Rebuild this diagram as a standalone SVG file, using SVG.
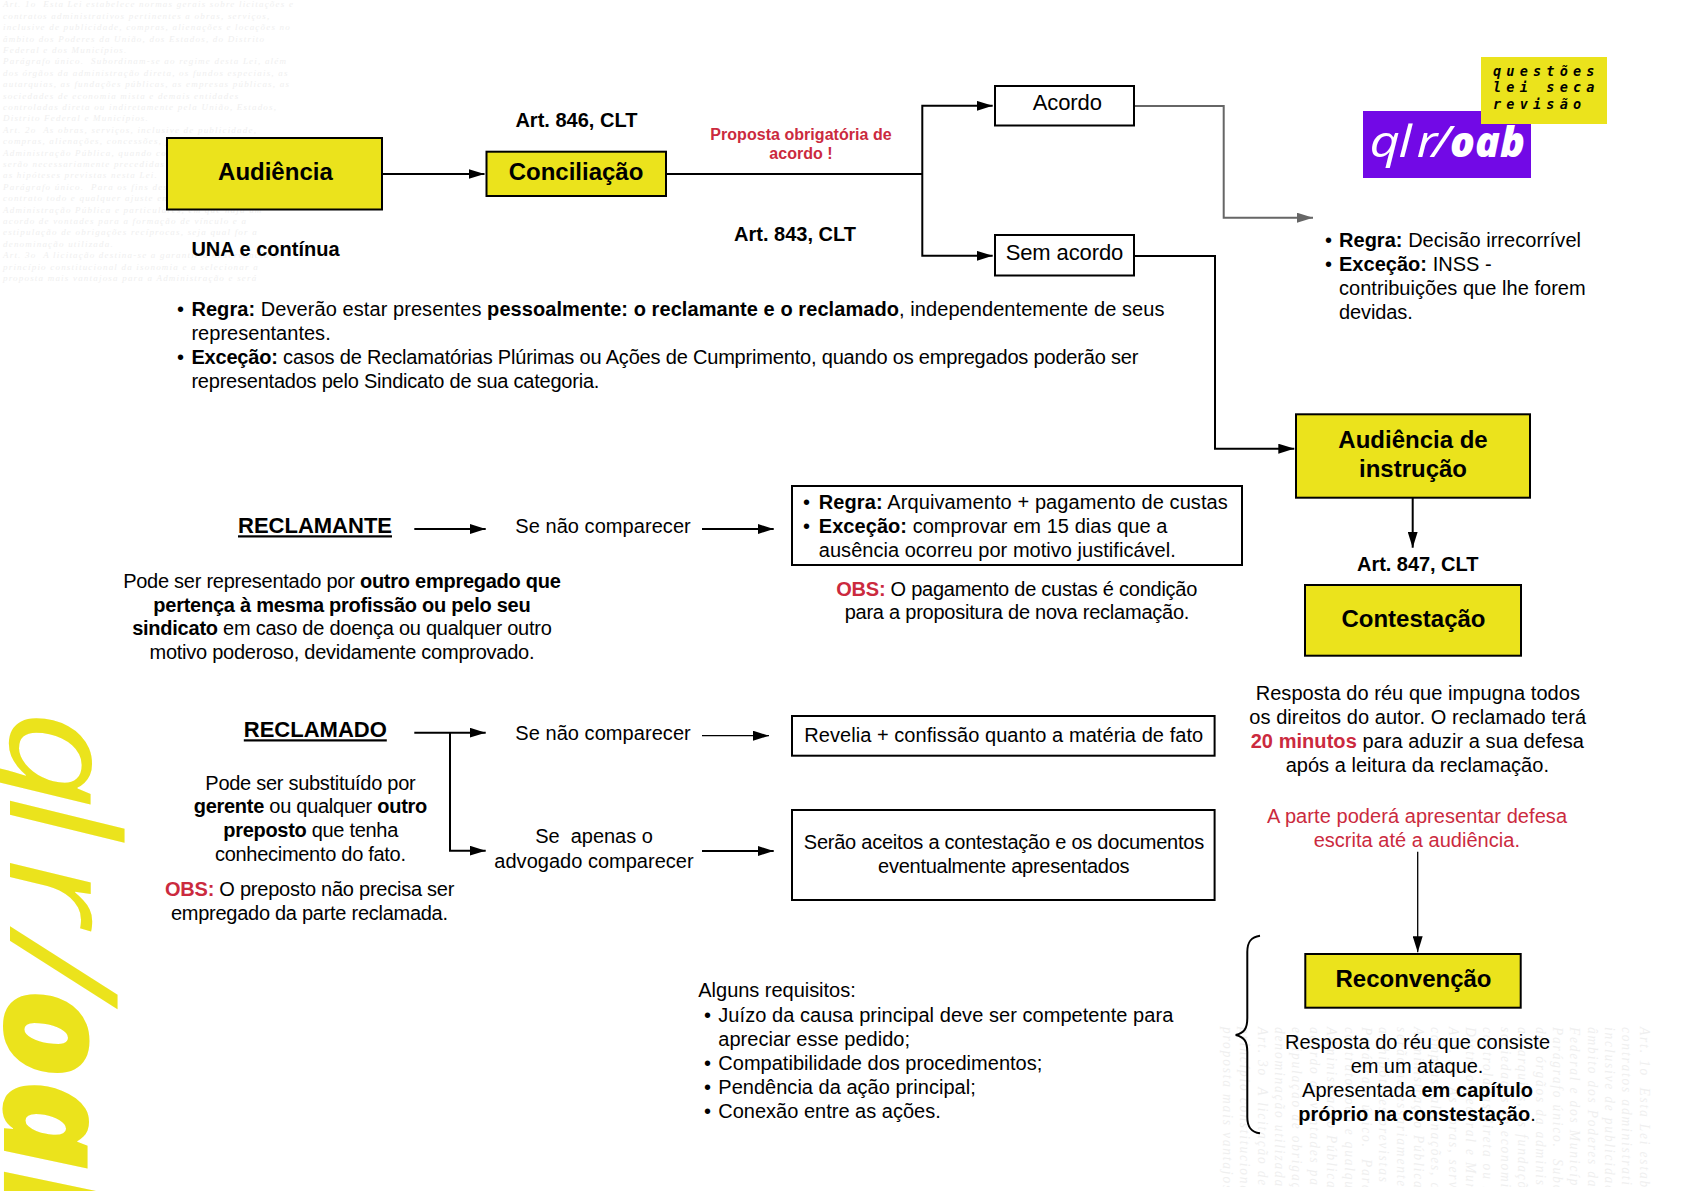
<svg xmlns="http://www.w3.org/2000/svg" width="1683" height="1191" viewBox="0 0 1683 1191">
<style>
text{font-family:"Liberation Sans",Arial,sans-serif;fill:#000;font-size:20px;white-space:pre}
.m{text-anchor:middle}
.b{font-weight:700}
.t{font-size:24px;font-weight:700;text-anchor:middle}
.h{font-size:20px;font-weight:700;text-anchor:middle}
.r{fill:#cb2a3e}
.u{font-size:22px;font-weight:700;text-anchor:middle;text-decoration:underline}
.n{fill:#ebe31c;stroke:#000;stroke-width:2}
.w{fill:#fff;stroke:#000;stroke-width:2}
.c{fill:none;stroke:#000;stroke-width:2}
.g{fill:none;stroke:#666;stroke-width:2}
#wmt text{font-family:"Liberation Serif",serif;font-style:italic;font-size:9px;letter-spacing:1.2px;fill:#efefef}
.mono{font-family:"DejaVu Sans Mono","Liberation Mono",monospace;font-weight:700;font-style:italic;font-size:13.5px;letter-spacing:5.2px}
.thin{font-family:"Open Sans",sans-serif;font-style:italic;font-weight:400}
.fat{font-family:"Open Sans",sans-serif;font-style:italic;font-weight:800}
.y{fill:#ebe31c}
.wh{fill:#fff}
</style>
<defs>
<marker id="a" markerWidth="16" markerHeight="10" refX="16" refY="5" orient="auto" markerUnits="userSpaceOnUse"><path d="M0 0L16 5L0 10z" fill="#000"/></marker>
<marker id="ag" markerWidth="16" markerHeight="10" refX="16" refY="5" orient="auto" markerUnits="userSpaceOnUse"><path d="M0 0L16 5L0 10z" fill="#666"/></marker>
<g id="wmt">
<text y="7.4">Art. 1o  Esta Lei estabelece normas gerais sobre licitações e</text>
<text y="18.8">contratos administrativos pertinentes a obras, serviços,</text>
<text y="30.2">inclusive de publicidade, compras, alienações e locações no</text>
<text y="41.6">âmbito dos Poderes da União, dos Estados, do Distrito</text>
<text y="53">Federal e dos Municípios.</text>
<text y="64.4">Parágrafo único.  Subordinam-se ao regime desta Lei, além</text>
<text y="75.8">dos órgãos da administração direta, os fundos especiais, as</text>
<text y="87.2">autarquias, as fundações públicas, as empresas públicas, as</text>
<text y="98.6">sociedades de economia mista e demais entidades</text>
<text y="110">controladas direta ou indiretamente pela União, Estados,</text>
<text y="121.4">Distrito Federal e Municípios.</text>
<text y="132.8">Art. 2o  As obras, serviços, inclusive de publicidade,</text>
<text y="144.2">compras, alienações, concessões, permissões e locações da</text>
<text y="155.6">Administração Pública, quando contratadas com terceiros,</text>
<text y="167">serão necessariamente precedidas de licitação, ressalvadas</text>
<text y="178.4">as hipóteses previstas nesta Lei.</text>
<text y="189.8">Parágrafo único.  Para os fins desta Lei, considera-se</text>
<text y="201.2">contrato todo e qualquer ajuste entre órgãos ou entidades da</text>
<text y="212.6">Administração Pública e particulares, em que haja um</text>
<text y="224">acordo de vontades para a formação de vínculo e a</text>
<text y="235.4">estipulação de obrigações recíprocas, seja qual for a</text>
<text y="246.8">denominação utilizada.</text>
<text y="258.2">Art. 3o  A licitação destina-se a garantir a observância do</text>
<text y="269.6">princípio constitucional da isonomia e a selecionar a</text>
<text y="281">proposta mais vantajosa para a Administração e será</text>
</g>
<clipPath id="cp"><rect x="1210" y="1020" width="473" height="167"/></clipPath>
</defs>
<rect width="1683" height="1191" fill="#fff"/>
<g id="watermark-top"><use href="#wmt" x="3" y="0"/></g>
<g id="watermark-bottom" clip-path="url(#cp)"><use href="#wmt" transform="translate(1651,1027) rotate(90) scale(1.5,1.523)"/></g>

<g id="logo-side">
<text class="thin y" style="font-size:150px" x="0 74.8 128.7 194.8" transform="translate(10,710) rotate(90) scale(1.15,1)">qlr/</text>
<text class="fat y" style="font-size:150px" transform="translate(4,988) rotate(90)">oab</text>
</g>
<g id="logo">
<rect x="1363" y="111" width="168" height="67" fill="#7209e6"/>
<text class="thin wh" style="font-size:44px" x="0 24 39 52" transform="translate(1369.6,157) scale(1.2,1)">qlr/</text>
<text class="fat wh" style="font-size:42px" transform="translate(1450,157) scale(.98,1)">oab</text>
<rect x="1481" y="57" width="126" height="67" fill="#ebe31c"/>
<text class="mono" x="1493" y="75.7">questões</text>
<text class="mono" x="1493" y="92.3">lei seca</text>
<text class="mono" x="1493" y="109">revisão</text>
</g>

<g id="connectors">
<path class="c" d="M383 174H484.5" marker-end="url(#a)"/>
<path class="c" d="M667 174H922.3"/>
<path class="c" d="M922.3 174V105.8H992.7" marker-end="url(#a)"/>
<path class="c" d="M922.3 174V255.8H992.7" marker-end="url(#a)"/>
<path class="g" d="M1135 106H1223.7V217.7H1313" marker-end="url(#ag)"/>
<path class="c" d="M1135 256H1215V448.7H1294.3" marker-end="url(#a)"/>
<path class="c" d="M1412.7 498V547.7" marker-end="url(#a)"/>
<path class="c" d="M414.3 529H485.7" marker-end="url(#a)"/>
<path class="c" d="M702 529H773.7" marker-end="url(#a)"/>
<path class="c" d="M414.3 732.7H485.7" marker-end="url(#a)"/>
<path class="c" d="M450 732.7V850.7H485.7" marker-end="url(#a)"/>
<path class="c" style="stroke-width:1.3" d="M702 735.7H769" marker-end="url(#a)"/>
<path class="c" d="M702 851H773.7" marker-end="url(#a)"/>
<path class="c" style="stroke-width:1.3" d="M1417.7 851.7V952.3" marker-end="url(#a)"/>
<path class="c" d="M1260 935.7C1250 937 1247.3 943 1247.3 952V1018C1247.3 1029 1244 1033 1235.7 1035C1244 1037 1247.3 1041 1247.3 1052V1117C1247.3 1126 1250 1132 1260 1133.3"/>
</g>

<g id="audiencia"><rect class="n" x="167" y="138" width="215" height="71.5"/><text class="t" x="275.4" y="179.5">Audiência</text></g>
<g id="conciliacao"><rect class="n" x="486.5" y="151.7" width="179.5" height="44.3"/><text class="t" x="576" y="179.5">Conciliação</text></g>
<g id="acordo"><rect class="w" x="995" y="86" width="139" height="39.5"/><text class="m" style="font-size:22px" x="1067.3" y="110" textLength="69.3">Acordo</text></g>
<g id="sem-acordo"><rect class="w" x="995" y="235" width="139" height="40.5"/><text class="m" style="font-size:22px" x="1064.5" y="260" textLength="117.7">Sem acordo</text></g>
<g id="instrucao"><rect class="n" x="1296" y="414.3" width="234" height="83.4"/><text class="t" x="1413" y="447.7">Audiência de</text><text class="t" x="1413" y="477">instrução</text></g>
<g id="contestacao"><rect class="n" x="1305" y="585" width="216" height="70.7"/><text class="t" x="1413.5" y="626.7">Contestação</text></g>
<g id="reconvencao"><rect class="n" x="1305.3" y="954" width="215.4" height="53.7"/><text class="t" x="1413.5" y="987">Reconvenção</text></g>

<g id="regra-box"><rect class="w" x="792" y="486" width="450" height="79"/>
<text x="803" y="509.3">•</text><text x="818.8" y="509.3" textLength="409"><tspan class="b">Regra:</tspan> Arquivamento + pagamento de custas</text>
<text x="803" y="533.3">•</text><text x="818.8" y="533.3" textLength="348.6"><tspan class="b">Exceção:</tspan> comprovar em 15 dias que a</text>
<text x="818.8" y="557.3" textLength="357">ausência ocorreu por motivo justificável.</text></g>
<g id="revelia-box"><rect class="w" x="792" y="716" width="422.6" height="39.7"/><text class="m" x="1003.7" y="741.7" textLength="399">Revelia + confissão quanto a matéria de fato</text></g>
<g id="serao-box"><rect class="w" x="792" y="810" width="422.6" height="90"/><text class="m" x="1004" y="849" textLength="400.4">Serão aceitos a contestação e os documentos</text><text class="m" x="1003.8" y="872.7" textLength="251.5">eventualmente apresentados</text></g>

<g id="labels">
<text class="h" x="576.4" y="126.7" textLength="122">Art. 846, CLT</text>
<text class="h" x="795" y="241" textLength="122">Art. 843, CLT</text>
<text class="h" x="1417.7" y="571" textLength="121.3">Art. 847, CLT</text>
<text class="h" x="265.5" y="255.7" textLength="148.2">UNA e contínua</text>
<text class="m b r" style="font-size:16px" x="801" y="140" textLength="181.4">Proposta obrigatória de</text>
<text class="m b r" style="font-size:16px" x="801" y="159.3" textLength="63.4">acordo !</text>

<text x="177" y="316">•</text><text x="191.4" y="316" textLength="973"><tspan class="b">Regra:</tspan> Deverão estar presentes <tspan class="b">pessoalmente: o reclamante e o reclamado</tspan>, independentemente de seus</text>
<text x="191.4" y="340" textLength="139.3">representantes.</text>
<text x="177" y="364">•</text><text x="191.4" y="364" textLength="947"><tspan class="b">Exceção:</tspan> casos de Reclamatórias Plúrimas ou Ações de Cumprimento, quando os empregados poderão ser</text>
<text x="191.4" y="388" textLength="408">representados pelo Sindicato de sua categoria.</text>

<text x="1325" y="246.7">•</text><text x="1339" y="246.7" textLength="242"><tspan class="b">Regra:</tspan> Decisão irrecorrível</text>
<text x="1325" y="270.7">•</text><text x="1339" y="270.7" textLength="152.7"><tspan class="b">Exceção:</tspan> INSS -</text>
<text x="1339" y="295" textLength="246.7">contribuições que lhe forem</text>
<text x="1339" y="319" textLength="73.7">devidas.</text>

<text class="u" x="315" y="533.3">RECLAMANTE</text>
<text class="m" x="603" y="533.3" textLength="175.5">Se não comparecer</text>
<text class="m" x="342" y="588.3" textLength="437.7">Pode ser representado por <tspan class="b">outro empregado que</tspan></text>
<text class="m b" x="342" y="611.7" textLength="377.3">pertença à mesma profissão ou pelo seu</text>
<text class="m" x="342" y="635.3" textLength="419.7"><tspan class="b">sindicato</tspan> em caso de doença ou qualquer outro</text>
<text class="m" x="342" y="659" textLength="385">motivo poderoso, devidamente comprovado.</text>

<text class="m" x="1016.8" y="596" textLength="361"><tspan class="b r">OBS:</tspan> O pagamento de custas é condição</text>
<text class="m" x="1017" y="618.5" textLength="344.7">para a propositura de nova reclamação.</text>

<text class="u" x="315.3" y="737.3">RECLAMADO</text>
<text class="m" x="603" y="740.3" textLength="175.5">Se não comparecer</text>
<text class="m" x="310.5" y="790.3" textLength="210.3">Pode ser substituído por</text>
<text class="m" x="310.5" y="813" textLength="233.6"><tspan class="b">gerente</tspan> ou qualquer <tspan class="b">outro</tspan></text>
<text class="m" x="310.8" y="836.7" textLength="175"><tspan class="b">preposto</tspan> que tenha</text>
<text class="m" x="310.5" y="861" textLength="191">conhecimento do fato.</text>
<text class="m" x="309.7" y="895.7" textLength="289.3"><tspan class="b r">OBS:</tspan> O preposto não precisa ser</text>
<text class="m" x="309.5" y="920" textLength="277">empregado da parte reclamada.</text>
<text class="m" x="594" y="843.3" textLength="117.7">Se  apenas o</text>
<text class="m" x="594" y="867.5" textLength="199.3">advogado comparecer</text>

<text class="m" x="1417.8" y="700.3" textLength="324.3">Resposta do réu que impugna todos</text>
<text class="m" x="1417.7" y="723.7" textLength="336.7">os direitos do autor. O reclamado terá</text>
<text class="m" x="1417.3" y="748" textLength="333.3"><tspan class="b r">20 minutos</tspan> para aduzir a sua defesa</text>
<text class="m" x="1417.3" y="772.3" textLength="263.3">após a leitura da reclamação.</text>
<text class="m r" x="1417" y="822.7" textLength="300">A parte poderá apresentar defesa</text>
<text class="m r" x="1416.8" y="847" textLength="206.3">escrita até a audiência.</text>

<text x="698.3" y="996.7" textLength="157.4">Alguns requisitos:</text>
<text x="704" y="1021.7">•</text><text x="718.3" y="1021.7" textLength="455">Juízo da causa principal deve ser competente para</text>
<text x="718.3" y="1045.7" textLength="191.7">apreciar esse pedido;</text>
<text x="704" y="1070">•</text><text x="718.3" y="1070" textLength="324">Compatibilidade dos procedimentos;</text>
<text x="704" y="1094.3">•</text><text x="718.3" y="1094.3" textLength="257.4">Pendência da ação principal;</text>
<text x="704" y="1118.3">•</text><text x="718.3" y="1118.3" textLength="222.4">Conexão entre as ações.</text>

<text class="m" x="1417.5" y="1049.3" textLength="265">Resposta do réu que consiste</text>
<text class="m" x="1417" y="1072.7" textLength="132.7">em um ataque.</text>
<text class="m" x="1417.5" y="1097" textLength="231">Apresentada <tspan class="b">em capítulo</tspan></text>
<text class="m" x="1417" y="1121" textLength="237.4"><tspan class="b">próprio na constestação</tspan>.</text>
</g>
</svg>
